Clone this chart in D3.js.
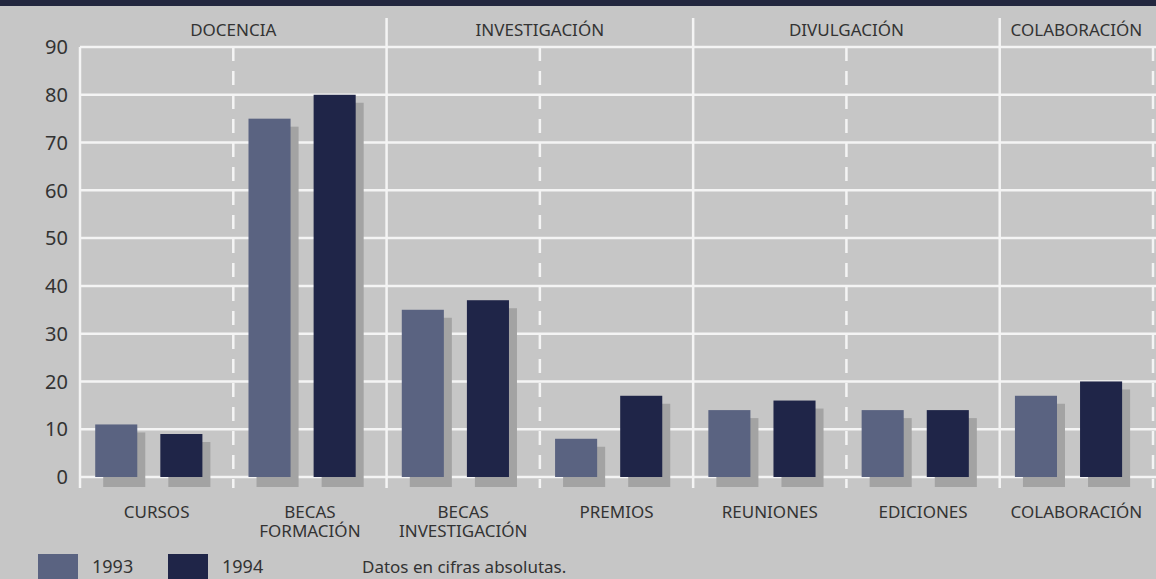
<!DOCTYPE html>
<html>
<head>
<meta charset="utf-8">
<script src="https://cdn.jsdelivr.net/npm/d3@7"></script>
<style>
  body { margin: 0; background: #c6c6c6; }
  svg { display: block; font-family: "Noto Sans", sans-serif; }
</style>
</head>
<body>
<svg id="chart" width="1156" height="579"></svg>
<script>
// data
var categories = ["CURSOS", "BECAS FORMACIÓN", "BECAS INVESTIGACIÓN", "PREMIOS", "REUNIONES", "EDICIONES", "COLABORACIÓN"];
var catLines = [["CURSOS"], ["BECAS", "FORMACIÓN"], ["BECAS", "INVESTIGACIÓN"], ["PREMIOS"], ["REUNIONES"], ["EDICIONES"], ["COLABORACIÓN"]];
var years = ["1993", "1994"];
var values1993 = [11, 75, 35, 8, 14, 14, 17];
var values1994 = [9, 80, 37, 17, 16, 14, 20];
var groups = ["DOCENCIA", "INVESTIGACIÓN", "DIVULGACIÓN", "COLABORACIÓN"];
var groupSpan = [[0, 2], [2, 4], [4, 6], [6, 7]];
var yTicks = [0, 10, 20, 30, 40, 50, 60, 70, 80, 90];

var colors = { "1993": "#5a6381", "1994": "#1f2548" };

var svg = d3.select("#chart");
var W = 1156, H = 579;
var mLeft = 80, mRight = 1153, mTop = 47, mBottom = 477;

svg.append("rect").attr("width", W).attr("height", H).attr("fill", "#c6c6c6");
svg.append("rect").attr("width", W).attr("height", 6).attr("fill", "#23273f");

var x = d3.scaleBand().domain(categories).range([mLeft, mRight]);
var x1 = d3.scaleBand().domain(years).range([0, x.bandwidth()])
  .paddingInner(0.354).paddingOuter(0.354).align(0.33);
var y = d3.scaleLinear().domain([0, 90]).range([mBottom, mTop]);

// horizontal grid
svg.append("g").selectAll("line").data(yTicks).enter().append("line")
  .attr("x1", mLeft).attr("x2", W)
  .attr("y1", d => y(d)).attr("y2", d => y(d))
  .attr("stroke", "#f4f4f4").attr("stroke-width", 2.5);

// y tick labels
svg.append("g").selectAll("text").data(yTicks).enter().append("text")
  .attr("x", 68).attr("y", d => y(d)).attr("dy", "0.36em")
  .attr("text-anchor", "end")
  .attr("font-size", 20).attr("fill", "#333")
  .text(d => d);

// vertical separators
var seps = d3.range(categories.length + 1);
svg.append("g").selectAll("line").data(seps).enter().append("line")
  .attr("x1", i => i < categories.length ? x(categories[i]) : mRight)
  .attr("x2", i => i < categories.length ? x(categories[i]) : mRight)
  .attr("y1", i => (i === 2 || i === 4 || i === 6) ? 18 : mTop)
  .attr("y2", 488)
  .attr("stroke", "#f4f4f4").attr("stroke-width", 2.5)
  .attr("stroke-dasharray", i => (i % 2 === 1) ? "14,10" : null);

// bars
var rows = categories.map((c, i) => ({ cat: c, vals: [values1993[i], values1994[i]] }));
var cg = svg.append("g").selectAll("g").data(rows).enter().append("g")
  .attr("transform", d => `translate(${x(d.cat)},0)`);

// shadows
cg.selectAll("rect.sh").data(d => d.vals.map((v, j) => ({ year: years[j], v: v }))).enter()
  .append("rect").attr("class", "sh")
  .attr("x", d => x1(d.year) + 8)
  .attr("y", d => y(d.v) + 8)
  .attr("width", x1.bandwidth())
  .attr("height", d => mBottom - y(d.v) + 2)
  .attr("fill", "#a3a3a3");

cg.selectAll("rect.bar").data(d => d.vals.map((v, j) => ({ year: years[j], v: v }))).enter()
  .append("rect").attr("class", "bar")
  .attr("x", d => x1(d.year))
  .attr("y", d => y(d.v))
  .attr("width", x1.bandwidth())
  .attr("height", d => mBottom - y(d.v))
  .attr("fill", d => colors[d.year]);

// category labels
var lab = svg.append("g").selectAll("text").data(categories).enter().append("text")
  .attr("text-anchor", "middle")
  .attr("font-size", 17).attr("fill", "#333")
  .attr("y", 518);
lab.each(function(c, i) {
  var t = d3.select(this);
  catLines[i].forEach((ln, k) => {
    t.append("tspan").attr("x", x(c) + x.bandwidth() / 2)
      .attr("y", 518 + k * 19).text(ln);
  });
});

// group headers
svg.append("g").selectAll("text").data(groups).enter().append("text")
  .attr("x", (g, i) => {
    var a = x(categories[groupSpan[i][0]]);
    var b = groupSpan[i][1] < categories.length ? x(categories[groupSpan[i][1]]) : mRight;
    return (a + b) / 2;
  })
  .attr("y", 36)
  .attr("text-anchor", "middle")
  .attr("font-size", 17).attr("fill", "#333")
  .text(d => d);

// legend
var leg = svg.append("g");
[[38, "1993"], [168, "1994"]].forEach(function(p) {
  leg.append("rect").attr("x", p[0]).attr("y", 554).attr("width", 40).attr("height", 25)
    .attr("fill", colors[p[1]]);
  leg.append("text").attr("x", p[0] + 54).attr("y", 573)
    .attr("font-size", 18).attr("fill", "#333").text(p[1]);
});
leg.append("text").attr("x", 362).attr("y", 573)
  .attr("font-size", 17).attr("fill", "#333").text("Datos en cifras absolutas.");
</script>
</body>
</html>
